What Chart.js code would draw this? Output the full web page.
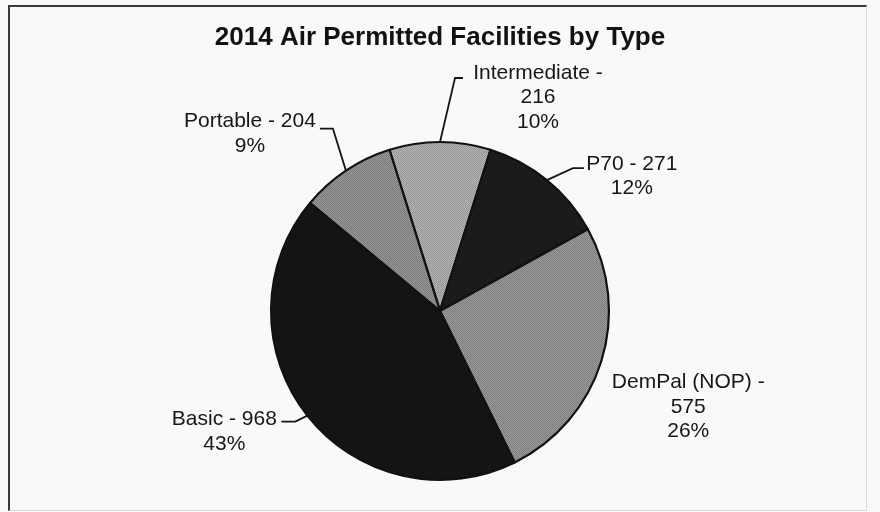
<!DOCTYPE html>
<html>
<head>
<meta charset="utf-8">
<script src="https://cdn.jsdelivr.net/npm/chart.js@4.4.1/dist/chart.umd.min.js"></script>
<style>
  html, body { margin: 0; padding: 0; background: #f9f9f9; }
  #wrap { position: relative; width: 880px; height: 512px; }
  #frame {
    position: absolute; left: 8px; top: 5px; width: 856px; height: 503px;
    border-left: 2px solid #3a3a3a; border-top: 2px solid #3a3a3a;
    border-right: 1px solid #dcdcdc; border-bottom: 1px solid #dcdcdc;
    pointer-events: none;
  }
</style>
</head>
<body>
<div id="wrap">
  <canvas id="facilitiesChart" width="880" height="512"></canvas>
  <div id="frame"></div>
</div>
<script>
// permit types, clockwise from the top
const types = ['Intermediate', 'P70', 'DemPal (NOP)', 'Basic', 'Portable'];
const counts = [216, 271, 575, 968, 204];
// each slice is a fine two-tone stipple: [light, dark]
const sliceTones = [
    ['#b3b3b3', '#979797'],
    ['#222222', '#141414'],
    ['#9c9c9c', '#7c7c7c'],
    ['#181818', '#101010'],
    ['#989898', '#7a7a7a']
];

// where each callout sits, relative to the point on the rim at the slice middle
const callouts = [
    { text: [98, -69], elbow: [15, -64], tail: [23, -64], splitValue: true },
    { text: [85, -16], elbow: [26, -12], tail: [37, -12], splitValue: false },
    { text: [87, 21], elbow: null, tail: null, splitValue: true },
    { text: [-83, 4], elbow: [-12, 6], tail: [-26, 6], splitValue: false },
    { text: [-96, -49], elbow: [-13, -42], tail: [-26, -42], splitValue: false }
];

const total = counts.reduce((a, b) => a + b, 0);

function stipple(light, dark) {
    const c = document.createElement('canvas');
    c.width = 2;
    c.height = 2;
    const g = c.getContext('2d');
    g.fillStyle = light;
    g.fillRect(0, 0, 2, 2);
    g.fillStyle = dark;
    g.fillRect(0, 0, 1, 1);
    g.fillRect(1, 1, 1, 1);
    return g.createPattern(c, 'repeat');
}

const calloutPlugin = {
    id: 'callouts',
    afterDatasetsDraw(chart) {
        const ctx = chart.ctx;
        const arcs = chart.getDatasetMeta(0).data;
        ctx.save();
        ctx.font = '21px "Liberation Sans", Arial, sans-serif';
        ctx.fillStyle = '#161616';
        ctx.strokeStyle = '#161616';
        ctx.lineWidth = 1.8;
        ctx.textAlign = 'center';
        ctx.textBaseline = 'middle';
        arcs.forEach((arc, i) => {
            const p = arc.getProps(['x', 'y', 'startAngle', 'endAngle', 'outerRadius'], true);
            const mid = (p.startAngle + p.endAngle) / 2;
            const ex = p.x + Math.cos(mid) * p.outerRadius;
            const ey = p.y + Math.sin(mid) * p.outerRadius;
            const c = callouts[i];
            if (c.elbow) {
                ctx.beginPath();
                ctx.moveTo(ex, ey);
                ctx.lineTo(ex + c.elbow[0], ey + c.elbow[1]);
                ctx.lineTo(ex + c.tail[0], ey + c.tail[1]);
                ctx.stroke();
            }
            const pct = Math.round(counts[i] / total * 100) + '%';
            const lines = c.splitValue
                ? [types[i] + ' -', String(counts[i]), pct]
                : [types[i] + ' - ' + counts[i], pct];
            lines.forEach((line, k) => {
                ctx.fillText(line, ex + c.text[0], ey + c.text[1] + k * 24.5);
            });
        });
        ctx.restore();
    }
};

new Chart(document.getElementById('facilitiesChart'), {
    type: 'pie',
    data: {
        labels: types,
        datasets: [{
            data: counts,
            backgroundColor: sliceTones.map(t => stipple(t[0], t[1])),
            borderColor: '#111111',
            borderWidth: 2.2
        }]
    },
    options: {
        responsive: false,
        animation: false,
        rotation: -17.4,
        layout: {
            padding: { top: 23, bottom: 31, left: 100, right: 100 }
        },
        plugins: {
            legend: { display: false },
            tooltip: { enabled: false },
            title: {
                display: true,
                text: '2014 Air Permitted Facilities by Type',
                color: '#121212',
                font: { family: '"Liberation Sans", Arial, sans-serif', size: 26, weight: 'bold', lineHeight: 1.15 },
                padding: { top: 0, bottom: 88 }
            }
        }
    },
    plugins: [calloutPlugin]
});
</script>
</body>
</html>
